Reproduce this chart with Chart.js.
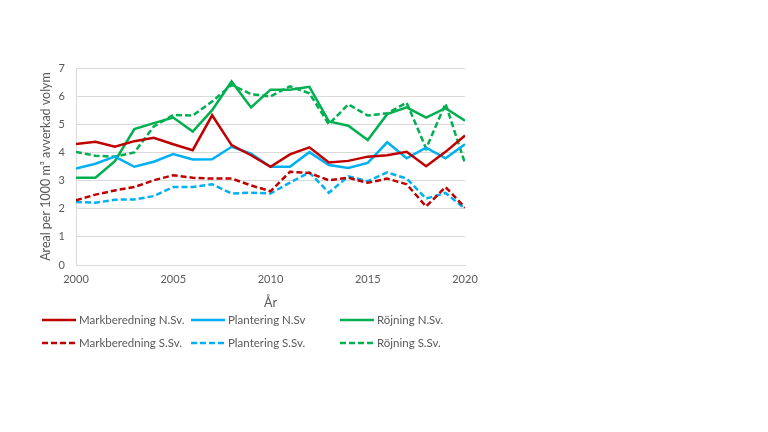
<!DOCTYPE html>
<html>
<head>
<meta charset="utf-8">
<script src="https://cdn.jsdelivr.net/npm/chart.js@4/dist/chart.umd.min.js"></script>
<style>
  html, body { margin: 0; padding: 0; background: #fff; }
  #wrap { position: relative; width: 768px; height: 432px; }
  #c { position: absolute; left: 0; top: 0; }
  .lg { position: absolute; font-family: Lato, "Open Sans", sans-serif; font-size: 11.5px; color: #595959; white-space: nowrap; line-height: 14px; }
  .lg svg { position: absolute; left: 0; top: 0px; }
  .lg span { position: absolute; left: 37px; top: -4px; }
</style>
</head>
<body>
<div id="wrap">
  <canvas id="c" width="768" height="432"></canvas>
  <div id="legend"></div>
</div>
<script>
const years = [2000,2001,2002,2003,2004,2005,2006,2007,2008,2009,2010,2011,2012,2013,2014,2015,2016,2017,2018,2019,2020];
const markNorr = [4.30,4.38,4.20,4.40,4.52,4.29,4.08,5.32,4.26,3.90,3.49,3.93,4.18,3.64,3.70,3.85,3.90,4.02,3.51,4.02,4.60];
const plantNorr = [3.43,3.60,3.85,3.49,3.67,3.94,3.75,3.76,4.20,3.96,3.49,3.49,4.01,3.55,3.45,3.63,4.36,3.79,4.17,3.79,4.29];
const rojNorr = [3.10,3.10,3.69,4.83,5.04,5.24,4.74,5.50,6.52,5.60,6.23,6.23,6.33,5.10,4.95,4.44,5.36,5.60,5.24,5.57,5.13];
const markSyd = [2.30,2.50,2.65,2.77,3.01,3.19,3.10,3.07,3.07,2.83,2.62,3.31,3.27,3.01,3.10,2.92,3.07,2.87,2.08,2.77,2.04];
const plantSyd = [2.24,2.21,2.32,2.33,2.45,2.77,2.77,2.87,2.54,2.57,2.54,2.93,3.29,2.57,3.15,2.98,3.29,3.07,2.36,2.56,2.00];
const rojSyd = [4.02,3.88,3.85,4.00,4.92,5.33,5.31,5.81,6.40,6.07,5.99,6.35,6.10,5.00,5.71,5.31,5.39,5.77,4.14,5.73,3.61];
const seriesNames = ["Markberedning N.Sv.","Plantering N.Sv","Röjning N.Sv.","Markberedning S.Sv.","Plantering S.Sv.","Röjning S.Sv."];
const xTitle = "År";
const yTitle = "Areal per 1000 m³ avverkad volym";

const RED = "#C00000", BLUE = "#00B0F0", GREEN = "#00B050";
const DASH = [6, 3];
const seriesData = [markNorr, plantNorr, rojNorr, markSyd, plantSyd, rojSyd];
const seriesColors = [RED, BLUE, GREEN, RED, BLUE, GREEN];
const seriesDash = [[], [], [], DASH, DASH, DASH];

const datasets = seriesData.map((vals, i) => ({
  label: seriesNames[i],
  data: vals.map((v, k) => ({x: years[k], y: v})),
  borderColor: seriesColors[i],
  backgroundColor: seriesColors[i],
  borderDash: seriesDash[i],
  borderWidth: 2.5,
  pointRadius: 0,
  tension: 0,
  fill: false
}));

const FONT = "Lato, 'Open Sans', sans-serif";
const GREY = "#595959";

new Chart(document.getElementById("c"), {
  type: "line",
  data: { datasets },
  options: {
    responsive: false,
    animation: false,
    layout: { padding: { left: 30, top: 68, right: 303, bottom: 122 } },
    plugins: { legend: { display: false }, tooltip: { enabled: false } },
    scales: {
      x: {
        type: "linear", min: 2000, max: 2020,
        ticks: { stepSize: 5, color: GREY, font: { family: FONT, size: 11 }, padding: 8, maxRotation: 0,
                 callback: v => String(v) },
        grid: { display: false, drawTicks: false },
        border: { display: true, color: "#D9D9D9", width: 1 },
        title: { display: true, text: xTitle, color: GREY, font: { family: FONT, size: 12.5 }, padding: { top: 1, bottom: 0 } },
        afterFit: s => { s.height = 45; }
      },
      y: {
        min: 0, max: 7,
        ticks: { stepSize: 1, color: GREY, font: { family: FONT, size: 11 }, padding: 11 },
        grid: { color: "#D9D9D9", lineWidth: 1, drawTicks: false },
        border: { display: true, color: "#D9D9D9", width: 1 },
        title: { display: true, text: yTitle, color: GREY, font: { family: FONT, size: 12.5 }, padding: { top: 8, bottom: 4 } },
        afterFit: s => { s.width = 46; }
      }
    }
  }
});

// HTML legend
const legendPos = [[42,320],[191,320],[340,320],[42,343],[191,343],[340,343]];
const lg = document.getElementById("legend");
seriesNames.forEach((name, i) => {
  const d = document.createElement("div");
  d.className = "lg";
  d.style.left = legendPos[i][0] + "px";
  d.style.top = (legendPos[i][1] - 3) + "px";
  const dash = seriesDash[i].length ? ' stroke-dasharray="' + seriesDash[i].join(",") + '"' : "";
  d.innerHTML = '<svg width="34" height="6"><line x1="0" y1="3" x2="34" y2="3" stroke="' + seriesColors[i] + '" stroke-width="2.5"' + dash + '/></svg><span></span>';
  d.querySelector("span").textContent = name;
  lg.appendChild(d);
});
</script>
</body>
</html>
